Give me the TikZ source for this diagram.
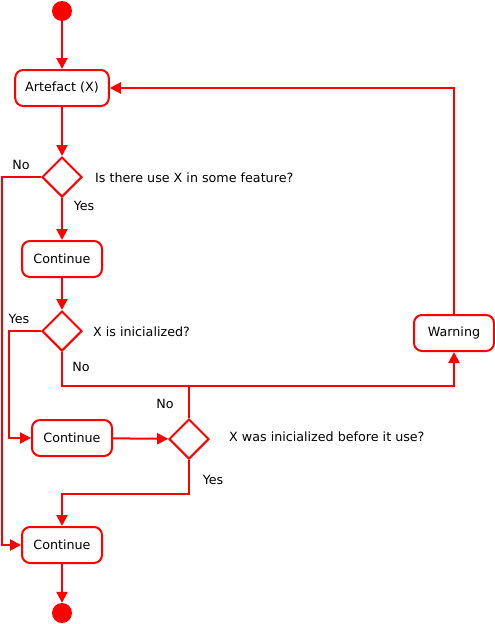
\documentclass[tikz,border=0pt]{standalone}
\usepackage{fontspec}
\setmainfont{DejaVu Sans}
\usetikzlibrary{arrows.meta,positioning,shapes.geometric}

\begin{document}
\begin{tikzpicture}[
        x=1pt, y=-1pt,
        every node/.style={font=\fontsize{12.7}{15}\selectfont},
        activity/.style={draw=red, line width=2pt, rounded corners=8pt, fill=white, minimum width=80pt, minimum height=36pt, inner xsep=10pt},
        decision/.style={draw=red, line width=2pt, diamond, minimum width=40pt, minimum height=40pt, inner sep=0pt},
        terminal/.style={circle, fill=red, minimum size=20pt, inner sep=0pt},
        flow/.style={draw=red, line width=2pt, -{Triangle[length=11pt,width=11pt]}},
        wire/.style={draw=red, line width=2pt},
        note/.style={inner sep=0pt}
    ]
    \useasboundingbox (0,0) rectangle (495,624);

    \node (start) [terminal] at (62,11) {};
    \node (artefact) [activity] at (62,88) {Artefact (X)};
    \node (use) [decision] at (62,177) {};
    \node (cont1) [activity] at (62,259) {Continue};
    \node (init) [decision] at (62,331) {};
    \node (warning) [activity] at (454,333) {Warning};
    \node (cont2) [activity] at (72,438) {Continue};
    \node (before) [decision] at (189,439) {};
    \node (cont3) [activity] at (62,545) {Continue};
    \node (stop) [terminal] at (62,613) {};
    \coordinate (merge) at (189,385.5);

    % questions
    \node (qUse) [note, anchor=west] at (95,178) {Is there use X in some feature?};
    \node (qInit) [note, anchor=west] at (93,332) {X is inicialized?};
    \node (qBefore) [note, anchor=west] at (229,437) {X was inicialized before it use?};

    % branch labels
    \node (useNo) [note] at (21,165) {No};
    \node (useYes) [note] at (84,206) {Yes};
    \node (initYes) [note] at (19,319) {Yes};
    \node (initNo) [note] at (81,367) {No};
    \node (beforeNo) [note] at (165,404) {No};
    \node (beforeYes) [note] at (213,480) {Yes};

    \draw[flow] (start) -- (artefact);
    \draw[flow] (artefact) -- (use);
    \draw[flow] (use) -- (cont1);
    \draw[flow] (use.west) -- ++(-39,0) |- (cont3.west);
    \draw[flow] (cont1) -- (init);
    \draw[flow] (init.west) -- ++(-32,0) |- (cont2.west);
    \draw[flow] (init.south) |- (merge) -| (warning.south);
    \draw[wire] (before.north) -- (merge);
    \draw[flow] (warning.north) |- (artefact.east);
    \draw[flow] (cont2) -- (before);
    \draw[flow] (before.south) -- ++(0,34) -| (cont3.north);
    \draw[flow] (cont3) -- (stop);
\end{tikzpicture}
\end{document}
